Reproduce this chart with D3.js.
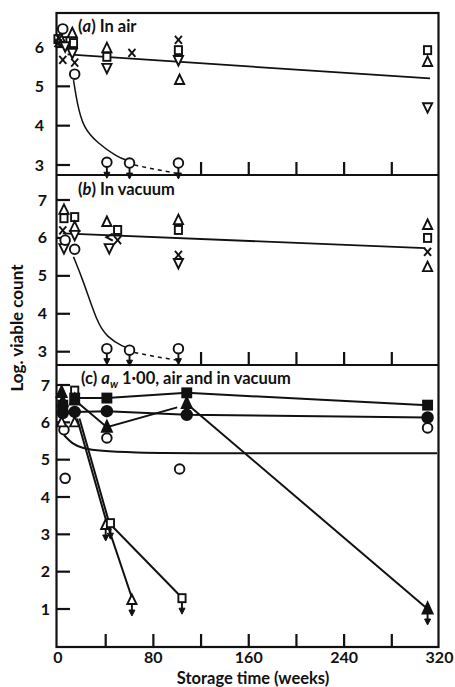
<!DOCTYPE html>
<html>
<head>
<meta charset="utf-8">
<script src="https://cdn.jsdelivr.net/npm/d3@7"></script>
<style>
body{margin:0;background:#fff}
svg{display:block}
text{font-family:Lato,"Open Sans",sans-serif;font-weight:700;fill:#111}
</style>
</head>
<body>
<svg class="chart" width="455" height="687"></svg>
<script>
// [storage weeks, log viable count]
// (a) in air
var airCircle = [[4,6.46],[14,5.31]];
var airCircleLim = [[41,3.07],[60,3.05],[101,3.05]];
var airTriUp = [[2,6.22],[12,6.35],[41,5.97],[102,5.16],[310,5.62]];
var airSquare = [[0,6.2],[4,6.15],[13,6.1],[41,5.75],[101,5.92],[310,5.92]];
var airTriDown = [[6,6.02],[12,5.85],[41,5.47],[101,5.67],[310,4.47]];
var airCross = [[0,6.1],[1,6.22],[4,5.67],[14,5.6],[62,5.85],[101,6.18]];
var airFit = [[8,5.81],[312,5.2]];
var airDecay = [[13,5.16],[16,4.58],[21,3.96],[33,3.56],[50,3.2],[58,3.12]];
var airDecayDash = [[64,3.0],[80,2.9],[101,2.78]];

// (b) in vacuum
var vacCircle = [[6,5.94],[14,5.7]];
var vacCircleLim = [[41,3.08],[60,3.04],[101,3.08]];
var vacTriUp = [[5,6.74],[14,6.29],[41,6.42],[101,6.47],[310,6.34],[310,5.23]];
var vacSquare = [[5,6.52],[14,6.55],[50,6.21],[101,6.21],[310,6.0]];
var vacTriDown = [[5,5.73],[14,6.08],[43,5.73],[101,5.34]];
var vacCross = [[4,6.2],[50,5.94],[101,5.55],[310,5.63]];
var vacChevron = [[43,6.02]];
var vacFit = [[4,6.12],[308,5.73]];
var vacDecay = [[13,5.5],[21,4.89],[33,3.75],[41,3.39],[55,3.12],[60,3.1]];
var vacDecayDash = [[64,2.98],[80,2.88],[101,2.77]];

// (c) aw 1.00, air and in vacuum
var awFillSquare = [[4,6.46],[14,6.65],[41,6.65],[108,6.79],[310,6.46]];
var awFillCircle = [[4,6.25],[14,6.28],[41,6.3],[108,6.2],[310,6.13]];
var awFillTri = [[3,6.8],[4,6.55],[14,6.6],[41,5.87],[108,6.5]];
var awFillTriLim = [[310,1.0]];
var awCircle = [[5,5.8],[6,4.5],[41,5.58],[102,4.75],[310,5.85]];
var awTri = [[3,6.0],[14,6.0]];
var awTriLim = [[40,3.25],[62,1.24]];
var awSquare = [[14,6.85]];
var awSquareLim = [[44,3.3],[104,1.29]];
var awSquareLine = [[14,6.65],[41,6.65],[108,6.79],[310,6.46]];
var awCircleLine = [[14,6.28],[41,6.3],[108,6.2],[310,6.13]];
var awTriLineA = [[14,6.6],[41,5.87],[100,6.4]];
var awTriLineB = [[108,6.5],[310,1.0]];
var awOpenTriLine = [[16,6.1],[41,3.3],[62,1.3]];
var awOpenSqLine = [[18,6.1],[43,3.3],[104,1.3]];
var awFit = [[5,5.66],[12,5.42],[20,5.31],[36,5.23],[60,5.19],[120,5.17],[318,5.17]];

var xTickLabels = [0,80,160,240,320];
var xTicks = [40,80,120,160,200,240,280];

var svg = d3.select('.chart');
var x = d3.scaleLinear().domain([0,320]).range([58,439.5]);

var panels = [
	{top:13, bottom:175, y:d3.scaleLinear().domain([3,6]).range([165,47]), yt:[3,4,5,6], lx:44, xt:[120,160,200,240,280]},
	{top:175, bottom:365, y:d3.scaleLinear().domain([3,7]).range([351.7,200]), yt:[3,4,5,6,7], lx:47, xt:[120,160,200,240,280]},
	{top:365, bottom:647, y:d3.scaleLinear().domain([1,7]).range([609,385]), yt:[1,2,3,4,5,6,7], lx:50, xt:xTicks}
];

// frame
var frame = svg.append('g').attr('stroke','#111').attr('stroke-width',2.2).attr('fill','none');
frame.append('rect').attr('x',x(0)-1.5).attr('y',13).attr('width',x(320)-x(0)+0.5).attr('height',647-13);
panels.forEach(function(p){
	frame.append('line').attr('x1',x(0)-1.5).attr('x2',x(320)-1).attr('y1',p.bottom).attr('y2',p.bottom);
	p.yt.forEach(function(v){
		frame.append('line').attr('x1',x(0)-1.5).attr('x2',x(0)+12).attr('y1',p.y(v)).attr('y2',p.y(v));
		svg.append('text').attr('x',p.lx).attr('y',p.y(v)+5.5).attr('text-anchor','end')
			.style('font-size','16px').text(v);
	});
	p.xt.forEach(function(v){
		frame.append('line').attr('x1',x(v)).attr('x2',x(v)).attr('y1',p.bottom).attr('y2',p.bottom-13);
	});
});

xTickLabels.forEach(function(v){
	svg.append('text').attr('x',x(v)).attr('y',663).attr('text-anchor','middle')
		.style('font-size','16px').text(v);
});
svg.append('text').attr('x',253).attr('y',684).attr('text-anchor','middle')
	.style('font-size','16.5px').text('Storage time (weeks)');
svg.append('text').attr('transform','translate(23,328) rotate(-90)').attr('text-anchor','middle')
	.style('font-size','17px').text('Log. viable count');

// panel titles
var ta = svg.append('text').attr('x',78).attr('y',32).style('font-size','16.5px');
ta.append('tspan').text('(');
ta.append('tspan').style('font-style','italic').text('a');
ta.append('tspan').text(') In air');
var tb = svg.append('text').attr('x',78).attr('y',195).style('font-size','16.5px');
tb.append('tspan').text('(');
tb.append('tspan').style('font-style','italic').text('b');
tb.append('tspan').text(') In vacuum');
var tc = svg.append('text').attr('x',81).attr('y',384).style('font-size','16.5px');
tc.append('tspan').text('(c) ');
tc.append('tspan').style('font-style','italic').text('a');
tc.append('tspan').attr('dy',4).style('font-size','11px').style('font-style','italic').text('w');
tc.append('tspan').attr('dy',-4).text(' 1·00, air and in vacuum');

// drawing helpers
function path(g, y, data, opts){
	opts = opts || {};
	var line = d3.line().x(function(d){ return x(d[0]) }).y(function(d){ return y(d[1]) });
	if(opts.curve) line.curve(opts.curve);
	g.append('path').datum(data).attr('d',line)
		.attr('fill','none').attr('stroke','#111')
		.attr('stroke-width',opts.w || 1.8)
		.attr('stroke-dasharray',opts.dash || null);
}

function marker(g, y, data, type, lim){
	data.forEach(function(d){
		var cx = x(d[0]), cy = y(d[1]);
		var m = g.append('g').attr('transform','translate(' + cx + ',' + cy + ')')
			.attr('stroke','#111').attr('stroke-width',1.9);
		if(lim){
			m.append('line').attr('x1',0).attr('x2',0).attr('y1',4).attr('y2',13);
			m.append('path').attr('d','M-3,10L3,10L0,16Z').attr('fill','#111').attr('stroke-width',1);
		}
		if(type === 'circle')
			m.append('circle').attr('r',4.8).attr('fill','#fff');
		else if(type === 'fcircle')
			m.append('circle').attr('r',5.3).attr('fill','#111');
		else if(type === 'triup')
			m.append('path').attr('d','M0,-5.5L4.6,4L-4.6,4Z').attr('fill','#fff');
		else if(type === 'ftri')
			m.append('path').attr('d','M0,-6.5L5,4.5L-5,4.5Z').attr('fill','#111');
		else if(type === 'tridown')
			m.append('path').attr('d','M0,5.5L4.6,-4L-4.6,-4Z').attr('fill','#fff');
		else if(type === 'square')
			m.append('rect').attr('x',-3.6).attr('y',-4).attr('width',7.2).attr('height',8).attr('fill','#fff');
		else if(type === 'fsquare')
			m.append('rect').attr('x',-4.5).attr('y',-4.5).attr('width',9).attr('height',9).attr('fill','#111');
		else if(type === 'cross'){
			m.append('line').attr('x1',-3.5).attr('x2',3.5).attr('y1',-4).attr('y2',4);
			m.append('line').attr('x1',3.5).attr('x2',-3.5).attr('y1',-4).attr('y2',4);
		}else if(type === 'chevron')
			m.append('path').attr('d','M3.5,-3.5L-3,0L3.5,3.5').attr('fill','none');
	});
}

// (a)
var gA = svg.append('g'), yA = panels[0].y;
path(gA, yA, airFit);
path(gA, yA, airDecay, {curve:d3.curveBasis, w:1.5});
path(gA, yA, airDecayDash, {dash:'4,4', w:1.5});
marker(gA, yA, airSquare, 'square');
marker(gA, yA, airTriUp, 'triup');
marker(gA, yA, airTriDown, 'tridown');
marker(gA, yA, airCross, 'cross');
marker(gA, yA, airCircle, 'circle');
marker(gA, yA, airCircleLim, 'circle', true);

// (b)
var gB = svg.append('g'), yB = panels[1].y;
path(gB, yB, vacFit);
path(gB, yB, vacDecay, {curve:d3.curveBasis, w:1.5});
path(gB, yB, vacDecayDash, {dash:'4,4', w:1.5});
marker(gB, yB, vacSquare, 'square');
marker(gB, yB, vacTriUp, 'triup');
marker(gB, yB, vacTriDown, 'tridown');
marker(gB, yB, vacCross, 'cross');
marker(gB, yB, vacChevron, 'chevron');
marker(gB, yB, vacCircle, 'circle');
marker(gB, yB, vacCircleLim, 'circle', true);

// (c)
var gC = svg.append('g'), yC = panels[2].y;
path(gC, yC, awFit, {curve:d3.curveBasis, w:2});
path(gC, yC, awSquareLine, {w:2});
path(gC, yC, awCircleLine, {w:2});
path(gC, yC, awTriLineA, {w:2});
path(gC, yC, awTriLineB, {w:2});
path(gC, yC, awOpenTriLine, {w:2});
path(gC, yC, awOpenSqLine, {w:2});
marker(gC, yC, awCircle, 'circle');
marker(gC, yC, awTri, 'triup');
marker(gC, yC, awTriLim, 'triup', true);
marker(gC, yC, awSquare, 'square');
marker(gC, yC, awSquareLim, 'square', true);
marker(gC, yC, awFillSquare, 'fsquare');
marker(gC, yC, awFillCircle, 'fcircle');
marker(gC, yC, awFillTri, 'ftri');
marker(gC, yC, awFillTriLim, 'ftri', true);
</script>
</body>
</html>
